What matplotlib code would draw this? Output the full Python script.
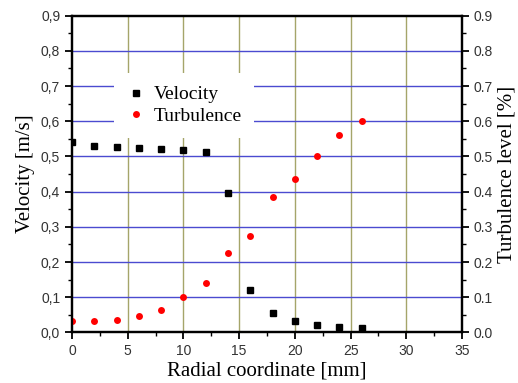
import matplotlib.pyplot as plt
from matplotlib.ticker import MultipleLocator, FuncFormatter

radius = [0, 2, 4, 6, 8, 10, 12, 14, 16, 18, 20, 22, 24, 26]
velocity = [0.540, 0.530, 0.528, 0.525, 0.522, 0.518, 0.512, 0.397, 0.120, 0.055, 0.032, 0.021, 0.016, 0.014]
turbulence = [0.033, 0.033, 0.036, 0.046, 0.065, 0.100, 0.140, 0.225, 0.273, 0.385, 0.437, 0.500, 0.560, 0.600]

serif = 'Liberation Serif'
sans = 'Liberation Sans'

fig = plt.figure(figsize=(5.18, 3.83), dpi=100)
ax = fig.add_axes([0.139, 0.132, 0.753, 0.827])

for v in range(5, 35, 5):
    ax.axvline(v, color='#a5a56a', lw=1.0, zorder=0)
for h in [0.1, 0.2, 0.3, 0.4, 0.5, 0.6, 0.7, 0.8]:
    ax.axhline(h, color='#4b4bd0', lw=1.0, zorder=0)

ax.plot(radius, velocity, 's', color='black', ms=5, label='Velocity', zorder=3)
ax.plot(radius, turbulence, 'o', color='#ff0000', ms=5, mec='none', label='Turbulence', zorder=3)

ax.set_xlim(0, 35)
ax.set_ylim(0, 0.9)
ax.xaxis.set_major_locator(MultipleLocator(5))
ax.xaxis.set_minor_locator(MultipleLocator(2.5))
ax.yaxis.set_major_locator(MultipleLocator(0.1))
ax.yaxis.set_minor_locator(MultipleLocator(0.05))
ax.yaxis.set_major_formatter(FuncFormatter(lambda y, p: f"{y:.1f}".replace('.', ',')))

for s in ax.spines.values():
    s.set_linewidth(1.6)
ax.tick_params(which='major', direction='out', length=5, width=1.3, labelsize=10, labelcolor='#333333')
ax.tick_params(which='minor', direction='out', length=3, width=1.0)
for lab in ax.get_xticklabels() + ax.get_yticklabels():
    lab.set_fontfamily(sans)

ax2 = ax.twinx()
ax2.set_ylim(0, 0.9)
ax2.yaxis.set_major_locator(MultipleLocator(0.1))
ax2.yaxis.set_minor_locator(MultipleLocator(0.05))
ax2.yaxis.set_major_formatter(FuncFormatter(lambda y, p: f"{y:.1f}"))
ax2.tick_params(which='major', direction='out', length=5, width=1.3, labelsize=10, labelcolor='#333333')
ax2.tick_params(which='minor', direction='out', length=3, width=1.0)
for s in ax2.spines.values():
    s.set_linewidth(1.6)
for lab in ax2.get_yticklabels():
    lab.set_fontfamily(sans)

ax.set_xlabel('Radial coordinate [mm]', fontfamily=serif, fontsize=15, labelpad=2)
ax.set_ylabel('Velocity [m/s]', fontfamily=serif, fontsize=15, labelpad=4)
ax2.set_ylabel('Turbulence level [%]', fontfamily=serif, fontsize=15, labelpad=3)

leg = ax.legend(loc='upper left', bbox_to_anchor=(0.122, 0.80), frameon=True,
                prop={'family': serif, 'size': 14}, handletextpad=0.4,
                labelspacing=0.2, borderpad=0.35, handlelength=1.0,
                borderaxespad=0)
leg.get_frame().set_edgecolor('none')
leg.get_frame().set_facecolor('white')
leg.get_frame().set_alpha(1)
leg.get_frame().set_boxstyle('square')

fig.savefig('out.png', dpi=100)
